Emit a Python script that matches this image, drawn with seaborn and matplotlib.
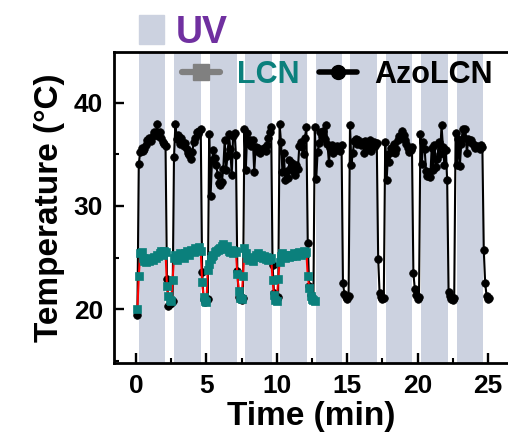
import numpy as np
import pandas as pd
import matplotlib
matplotlib.use("Agg")
import matplotlib.pyplot as plt
from matplotlib.lines import Line2D
from matplotlib.patches import Rectangle
from matplotlib.ticker import MultipleLocator
import seaborn as sns

# UV illumination windows (min)
uv_start = [0.2, 2.68, 5.24, 7.72, 10.23, 12.76, 15.22, 17.76, 20.24, 22.8]
uv_end = [2.06, 4.62, 7.15, 9.63, 12.16, 14.65, 17.14, 19.62, 22.18, 24.68]

# thermocouple readings, one sample every 0.1 min starting at t = 0.1 min
sample_dt = 0.1
sample_t0 = 0.1

azo_temp = [
    19.4,
    # cycle 1
    34.1, 35.2, 35.6, 35.3, 35.5, 35.9, 36.4, 36.6, 36.5, 36.3,
    36.8, 37.2, 37.0, 37.9, 36.8, 37.2, 36.6, 36.2, 36.0, 35.8,
    22.9, 20.3, 20.5, 20.6, 20.8,
    # cycle 2
    34.7, 37.9, 36.5, 36.9, 36.0, 36.6, 36.2, 35.8, 36.1, 35.5,
    35.1, 34.9, 34.5, 35.2, 36.2, 36.6, 37.2, 37.0, 37.3, 37.4,
    23.6, 21.0, 20.7, 20.8, 21.0,
    # cycle 3
    37.0, 31.0, 34.4, 35.4, 34.6, 34.0, 33.0, 32.2, 32.0, 32.3,
    33.6, 36.4, 33.5, 34.8, 37.0, 35.5, 33.0, 36.8, 37.1, 34.9,
    23.7, 21.2, 21.0, 20.9, 21.1,
    # cycle 4
    37.4, 33.5, 37.1, 36.0, 36.4, 35.8, 36.4, 33.3, 35.7, 35.3,
    35.6, 35.1, 35.4, 35.5, 35.6, 35.3, 35.9, 36.6, 37.2, 37.6,
    24.3, 21.6, 21.1, 21.0, 21.2,
    # cycle 5
    37.9, 36.2, 33.3, 35.1, 32.5, 33.4, 32.7, 34.4, 33.8, 34.2,
    33.3, 33.0, 34.0, 33.6, 35.8, 36.2, 35.7, 35.0, 36.6, 37.6,
    26.4, 22.3, 21.4, 21.0, 20.9,
    # cycle 6
    37.6, 32.6, 35.2, 36.1, 37.2, 36.8, 37.3, 36.5, 37.8, 36.0,
    34.2, 35.6, 35.9, 35.1, 35.7, 35.4, 35.8, 35.6, 35.3, 35.9,
    22.5, 21.5, 21.2, 21.0, 21.3,
    # cycle 7
    37.8, 34.0, 35.1, 36.3, 36.5, 36.0, 36.4, 36.1, 35.9, 36.2,
    35.1, 36.3, 36.0, 35.5, 36.4, 35.3, 35.9, 36.2, 35.8, 36.1,
    24.9, 21.6, 21.2, 21.0, 21.1,
    # cycle 8
    36.2, 32.5, 35.0, 34.3, 35.6, 35.2, 36.0, 35.1, 35.5, 36.4,
    36.8, 36.6, 37.3, 36.9, 36.4, 36.0, 35.6, 35.2, 35.4, 35.7,
    23.5, 22.0, 21.4, 21.0, 21.2,
    # cycle 9
    37.0, 34.1, 36.2, 35.5, 33.4, 32.9, 33.3, 32.8, 35.6, 33.5,
    35.9, 33.8, 34.5, 36.2, 35.0, 37.8, 35.7, 34.0, 35.4, 32.5,
    21.7, 21.3, 21.0, 20.9, 21.1,
    # cycle 10
    37.1, 34.0, 36.5, 33.9, 36.0, 37.4, 36.6, 37.4, 35.1, 36.5,
    36.2, 36.4, 36.0, 35.9, 35.6, 35.8, 35.7, 35.5, 35.9, 35.7,
    25.7, 22.5, 21.3, 21.0, 21.1,
]

lcn_temp = [
    20.0,
    # cycle 1
    23.2, 25.4, 25.5, 25.0, 24.7, 24.6, 24.8, 24.7, 25.0, 24.9,
    24.8, 25.1, 25.0, 25.3, 25.2, 25.4, 25.6, 25.3, 25.6, 25.5,
    22.3, 21.3, 20.9, 20.8, 22.8,
    # cycle 2
    25.0, 25.3, 24.8, 25.1, 25.4, 25.2, 25.3, 25.0, 25.4, 25.6,
    25.5, 25.3, 25.7, 25.6, 25.5, 25.9, 25.7, 25.8, 26.0, 25.6,
    22.6, 21.2, 20.8, 20.7, 23.8,
    # cycle 3
    24.4, 24.9, 25.2, 25.3, 25.5, 25.6, 25.7, 25.8, 25.9, 26.1,
    26.3, 26.0, 25.8, 26.1, 25.6, 25.5, 25.7, 25.4, 25.6, 25.5,
    23.4, 21.8, 21.1, 21.0, 23.2,
    # cycle 4
    25.9, 25.4, 25.0, 24.8, 25.0, 24.9, 24.7, 25.1, 25.3, 25.2,
    25.4, 25.1, 25.3, 25.0, 25.2, 24.9, 25.1, 24.8, 24.9, 25.0,
    22.8, 21.4, 20.9, 20.8, 22.9,
    # cycle 5
    24.6, 25.2, 25.4, 25.3, 25.0, 25.2, 25.3, 25.1, 25.3, 25.2,
    25.4, 25.3, 25.2, 25.4, 25.5, 25.3, 25.4, 25.6, 25.4, 25.5,
    23.2, 22.1, 21.3, 21.0, 20.9, 20.8,
]

series_labels = ["LCN", "AzoLCN"]
x_ticks = [0, 5, 10, 15, 20, 25]
y_ticks = [20, 30, 40]

UV_COLOR = "#ccd2e0"
TEAL = "#0b807c"
PURPLE = "#7030a0"

azo = pd.DataFrame({
    "time": np.round(sample_t0 + sample_dt * np.arange(len(azo_temp)), 2),
    "temp": azo_temp,
})
lcn = pd.DataFrame({
    "time": np.round(sample_t0 + sample_dt * np.arange(len(lcn_temp)), 2),
    "temp": lcn_temp,
})

sns.set_theme(style="ticks")
plt.rcParams["font.family"] = ["Liberation Sans", "DejaVu Sans"]
plt.rcParams.update({
    "font.weight": "bold",
    "axes.labelweight": "bold",
    "text.color": "black",
    "axes.labelcolor": "black",
    "xtick.color": "black",
    "ytick.color": "black",
    "axes.edgecolor": "black",
})

fig = plt.figure(figsize=(5.08, 4.42), dpi=100)
ax = fig.add_axes([114 / 508, 79 / 442, 1 - 114 / 508, 311 / 442])

for s, e in zip(uv_start, uv_end):
    ax.axvspan(s, e, color=UV_COLOR, lw=0, zorder=0)

sns.lineplot(data=azo, x="time", y="temp", ax=ax, estimator=None, sort=False,
             color="black", lw=1.5, marker="o", markersize=5.5,
             markerfacecolor="black", markeredgecolor="black",
             markeredgewidth=0.5, zorder=3)
sns.lineplot(data=lcn, x="time", y="temp", ax=ax, estimator=None, sort=False,
             color="red", lw=1.5, marker="s", markersize=6,
             markerfacecolor=TEAL, markeredgecolor=TEAL,
             markeredgewidth=0.5, zorder=4)

ax.set_xlim(-1.56, 26.42)
ax.set_ylim(14.8, 44.9)
ax.set_xticks(x_ticks)
ax.set_yticks(y_ticks)
ax.xaxis.set_minor_locator(MultipleLocator(2.5))
ax.yaxis.set_minor_locator(MultipleLocator(5))
ax.tick_params(which="major", direction="in", length=7.5, width=1.7,
               labelsize=19, pad=8, colors="black")
ax.tick_params(which="minor", direction="in", length=3.5, width=1.5,
               colors="black")
for side in ("left", "bottom", "top"):
    ax.spines[side].set_linewidth(2.0)
    ax.spines[side].set_color("black")
ax.spines["right"].set_visible(False)

ax.set_xlabel("Time (min)", fontsize=24, labelpad=2)
ax.set_ylabel("Temperature (°C)", fontsize=24, labelpad=6)

handles = [
    Line2D([], [], color="#808080", lw=4.5, marker="s", markersize=11),
    Line2D([], [], color="black", lw=4, marker="o", markersize=10),
]
leg = ax.legend(handles, series_labels, ncol=2, frameon=False, fontsize=22,
                loc="center left", bbox_to_anchor=(0.172, 0.926),
                borderpad=0, borderaxespad=0, handlelength=1.25,
                handletextpad=0.55, columnspacing=0.65)
leg.get_texts()[0].set_color(TEAL)
leg.get_texts()[1].set_color("black")

# UV key above the plot
fig.patches.append(Rectangle((139 / 508, 1 - 44 / 442), 25 / 508, 29 / 442,
                             transform=fig.transFigure, color=UV_COLOR))
fig.text(176 / 508, 1 - 43 / 442, "UV", color=PURPLE, fontsize=27,
         fontweight="bold", ha="left", va="baseline")

fig.savefig("out.png", dpi=100)
